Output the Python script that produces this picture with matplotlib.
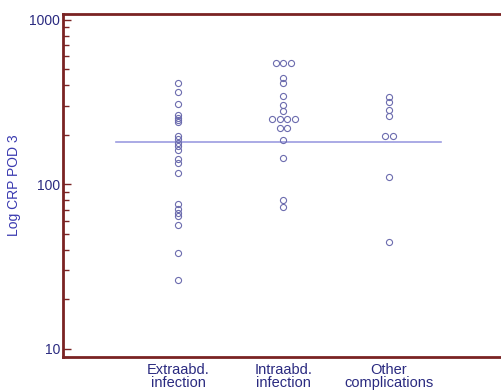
import numpy as np
import matplotlib
matplotlib.use("Agg")
import matplotlib.pyplot as plt
from matplotlib.ticker import LogLocator, NullFormatter, FixedLocator

plt.rcParams['font.family'] = ['Liberation Sans', 'DejaVu Sans']

groups = ['Extraabd.\ninfection', 'Intraabd.\ninfection', 'Other\ncomplications']

extra = [413, 367, 310, 263, 254, 245, 239, 198, 188, 179, 171, 163, 142, 135,
         118, 75.7, 70.5, 66.7, 64.2, 56.6, 38.2, 26.3]
intra = [545, 545, 545, 443, 416, 345, 304, 281, 250, 250, 250, 250, 221, 221,
         187, 144, 80.5, 72.7]
other = [342, 319, 284, 261, 197, 197, 111, 44.9]
cutoff = 182

fig = plt.figure(figsize=(5.01, 3.92), dpi=100)
ax = fig.add_axes([63 / 501, 1 - 357 / 392, 1 - 63 / 501 + 0.01, (357 - 14) / 392])

dot_col = '#6c6cae'
spread = 0.071  # horizontal gap for tied values

for i, vals in enumerate([extra, intra, other]):
    vals = np.array(vals, dtype=float)
    xs = np.full(len(vals), i + 1.0)
    for v in np.unique(vals):
        idx = np.where(vals == v)[0]
        n = len(idx)
        xs[idx] = i + 1 + (np.arange(n) - (n - 1) / 2) * spread
    ax.plot(xs, vals, 'o', ms=4.4, mfc='none', mec=dot_col, mew=0.8)

ax.plot([0.41, 3.49], [cutoff, cutoff], color='#9c9ce0', lw=1.2, zorder=1)

ax.set_yscale('log')
ax.set_ylim(8.94, 1087)
ax.set_xlim(-0.09, 4.11)

ax.yaxis.set_major_locator(FixedLocator([10, 100, 1000]))
ax.set_yticklabels(['10', '100', '1000'])
ax.yaxis.set_minor_locator(LogLocator(base=10, subs=np.arange(2, 10)))
ax.yaxis.set_minor_formatter(NullFormatter())

ax.set_xticks([1, 2, 3])
ax.set_xticklabels(groups, linespacing=0.92)

spine_col = '#7a2323'
for s in ['left', 'bottom', 'top']:
    ax.spines[s].set_color(spine_col)
    ax.spines[s].set_linewidth(2)
ax.spines['right'].set_visible(False)

ax.tick_params(axis='y', which='major', direction='in', length=6, width=1,
               color=spine_col, labelsize=10, labelcolor='#2a2a80', pad=2)
ax.tick_params(axis='y', which='minor', direction='in', length=4, width=1,
               color=spine_col)
ax.tick_params(axis='x', length=0, labelsize=10.5, labelcolor='#2a2a80', pad=4)

ax.set_ylabel('Log CRP POD 3', fontsize=10, color='#3a3ab0', labelpad=6)

fig.savefig('out.png', dpi=100)
